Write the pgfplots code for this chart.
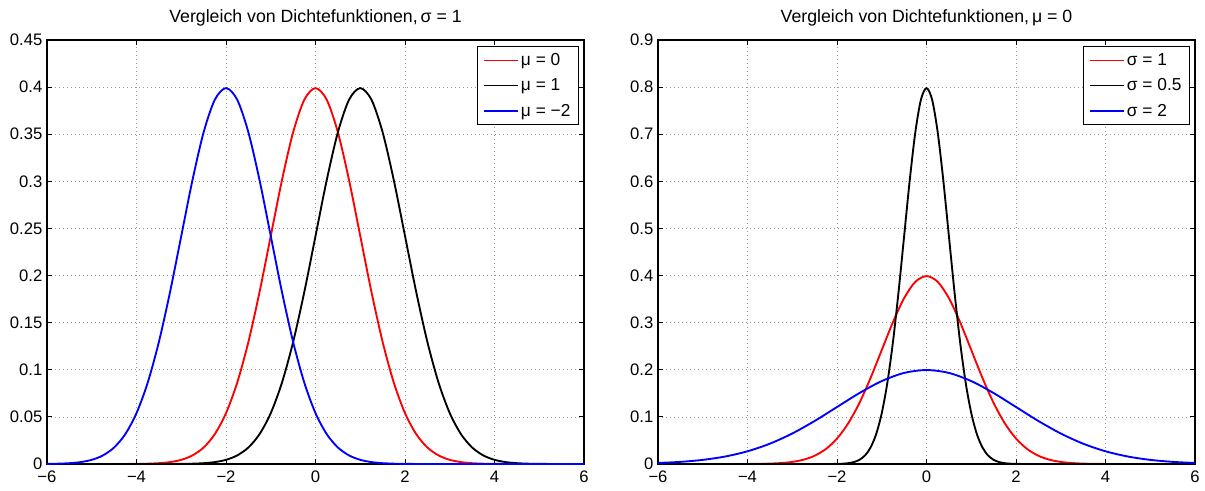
\documentclass[border=0pt]{standalone}
\usepackage{fontspec}
\setmainfont{Liberation Sans}
\usepackage{pgfplots}
\pgfplotsset{compat=1.18}
\definecolor{mred}{RGB}{255,0,0}
\definecolor{mblue}{RGB}{0,0,255}
\pgfplotsset{
  mstyle/.style={
    scale only axis,
    width=402.75pt, height=318pt,
    anchor=south west,
    xmin=-6, xmax=6,
    ymin=0,
    xtick={-6,-4,-2,0,2,4,6},
    xticklabels={−6,−4,−2,0,2,4,6},
    grid=major,
    major grid style={dash pattern=on 0.75pt off 2.25pt, gray!80, line width=0.5pt},
    tick align=inside,
    major tick length=4pt,
    axis line style={line width=0.8pt},
    every tick/.style={black, line width=0.6pt},
    tick label style={font=\fontsize{12.5}{14}\selectfont},
    x tick label style={yshift=-1.5pt},
    /pgf/number format/assume math mode=true,
    title style={font=\fontsize{13.3}{15}\selectfont, yshift=1pt},
    legend style={draw=black, line width=0.8pt, font=\fontsize{13}{15}\selectfont, anchor=north east, inner xsep=4pt, inner ysep=3pt, row sep=4.5pt},
    legend cell align=left,
    legend image code/.code={\draw[#1, line width=0.9pt] (0cm,0cm) -- (0.9cm,0cm);},
    every axis plot/.append style={line width=1.4pt},
  }
}
\begin{document}
\begin{tikzpicture}
\useasboundingbox (0,0) rectangle (903.75pt,367.5pt);
\begin{axis}[mstyle, at={(35.25pt,19.5pt)},
  ymax=0.45,
  ytick={0,0.05,0.1,0.15,0.2,0.25,0.3,0.35,0.4,0.45},
  yticklabels={0,0.05,0.1,0.15,0.2,0.25,0.3,0.35,0.4,0.45},
  title={Vergleich von Dichtefunktionen,\,σ = 1},
  legend style={at={(0.9907,0.9858)}},
]
\addplot[mred, smooth] coordinates {
(-6,0)(-5,0.0000015)(-4.5,0.000016)(-4,0.000134)(-3.75,0.000353)(-3.5,0.000873)(-3.25,0.002029)(-3,0.004432)(-2.75,0.009094)(-2.5,0.017528)(-2.25,0.031740)(-2,0.053991)(-1.75,0.086277)(-1.5,0.129518)(-1.25,0.182649)(-1,0.241971)(-0.75,0.301137)(-0.5,0.352065)(-0.25,0.386668)(0,0.398942)
(0.25,0.386668)(0.5,0.352065)(0.75,0.301137)(1,0.241971)(1.25,0.182649)(1.5,0.129518)(1.75,0.086277)(2,0.053991)(2.25,0.031740)(2.5,0.017528)(2.75,0.009094)(3,0.004432)(3.25,0.002029)(3.5,0.000873)(3.75,0.000353)(4,0.000134)(4.5,0.000016)(5,0.0000015)(6,0)
};
\addlegendentry{μ = 0}
\addplot[black, smooth] coordinates {
(-6,0)(-4,0.0000015)(-3.5,0.000016)(-3,0.000134)(-2.75,0.000353)(-2.5,0.000873)(-2.25,0.002029)(-2,0.004432)(-1.75,0.009094)(-1.5,0.017528)(-1.25,0.031740)(-1,0.053991)(-0.75,0.086277)(-0.5,0.129518)(-0.25,0.182649)(0,0.241971)(0.25,0.301137)(0.5,0.352065)(0.75,0.386668)(1,0.398942)(1.25,0.386668)(1.5,0.352065)(1.75,0.301137)(2,0.241971)(2.25,0.182649)(2.5,0.129518)(2.75,0.086277)(3,0.053991)(3.25,0.031740)(3.5,0.017528)(3.75,0.009094)(4,0.004432)(4.25,0.002029)(4.5,0.000873)(4.75,0.000353)(5,0.000134)(5.5,0.000016)(6,0.0000015)
};
\addlegendentry{μ = 1}
\addplot[mblue, smooth] coordinates {
(-6,0.000134)(-5.75,0.000353)(-5.5,0.000873)(-5.25,0.002029)(-5,0.004432)(-4.75,0.009094)(-4.5,0.017528)(-4.25,0.031740)(-4,0.053991)(-3.75,0.086277)(-3.5,0.129518)(-3.25,0.182649)(-3,0.241971)(-2.75,0.301137)(-2.5,0.352065)(-2.25,0.386668)(-2,0.398942)(-1.75,0.386668)(-1.5,0.352065)(-1.25,0.301137)(-1,0.241971)(-0.75,0.182649)(-0.5,0.129518)(-0.25,0.086277)(0,0.053991)(0.25,0.031740)(0.5,0.017528)(0.75,0.009094)(1,0.004432)(1.25,0.002029)(1.5,0.000873)(1.75,0.000353)(2,0.000134)(2.5,0.000016)(3,0.0000015)(6,0)
};
\addlegendentry{μ = −2}
\end{axis}
\begin{axis}[mstyle, at={(493.5pt,19.5pt)},
  ymax=0.9,
  ytick={0,0.1,0.2,0.3,0.4,0.5,0.6,0.7,0.8,0.9},
  yticklabels={0,0.1,0.2,0.3,0.4,0.5,0.6,0.7,0.8,0.9},
  title={Vergleich von Dichtefunktionen,\,μ = 0},
  legend style={at={(0.9907,0.9858)}},
]
\addplot[mred, smooth] coordinates {
(-6,0)(-5,0.0000015)(-4.5,0.000016)(-4,0.000134)(-3.75,0.000353)(-3.5,0.000873)(-3.25,0.002029)(-3,0.004432)(-2.75,0.009094)(-2.5,0.017528)(-2.25,0.031740)(-2,0.053991)(-1.75,0.086277)(-1.5,0.129518)(-1.25,0.182649)(-1,0.241971)(-0.75,0.301137)(-0.5,0.352065)(-0.25,0.386668)(0,0.398942)
(0.25,0.386668)(0.5,0.352065)(0.75,0.301137)(1,0.241971)(1.25,0.182649)(1.5,0.129518)(1.75,0.086277)(2,0.053991)(2.25,0.031740)(2.5,0.017528)(2.75,0.009094)(3,0.004432)(3.25,0.002029)(3.5,0.000873)(3.75,0.000353)(4,0.000134)(4.5,0.000016)(5,0.0000015)(6,0)
};
\addlegendentry{σ = 1}
\addplot[black, smooth] coordinates {
(-6,0)(-3,0)(-2.5,0.000003)(-2.25,0.000032)(-2,0.000268)(-1.875,0.000706)(-1.75,0.001746)(-1.625,0.004058)(-1.5,0.008864)(-1.375,0.018188)(-1.25,0.035056)(-1.125,0.063480)(-1,0.107982)(-0.875,0.172554)(-0.75,0.259036)(-0.625,0.365298)(-0.5,0.483942)(-0.375,0.602274)(-0.25,0.704130)(-0.125,0.773336)(0,0.797885)
(0.125,0.773336)(0.25,0.704130)(0.375,0.602274)(0.5,0.483942)(0.625,0.365298)(0.75,0.259036)(0.875,0.172554)(1,0.107982)(1.125,0.063480)(1.25,0.035056)(1.375,0.018188)(1.5,0.008864)(1.625,0.004058)(1.75,0.001746)(1.875,0.000706)(2,0.000268)(2.25,0.000032)(2.5,0.000003)(3,0)(6,0)
};
\addlegendentry{σ = 0.5}
\addplot[mblue, smooth] coordinates {
(-6,0.002216)(-5.5,0.004547)(-5,0.008764)(-4.5,0.015870)(-4,0.026995)(-3.5,0.043139)(-3,0.064759)(-2.5,0.091325)(-2,0.120985)(-1.5,0.150569)(-1,0.176033)(-0.5,0.193334)(0,0.199471)
(0.5,0.193334)(1,0.176033)(1.5,0.150569)(2,0.120985)(2.5,0.091325)(3,0.064759)(3.5,0.043139)(4,0.026995)(4.5,0.015870)(5,0.008764)(5.5,0.004547)(6,0.002216)
};
\addlegendentry{σ = 2}
\end{axis}
\end{tikzpicture}
\end{document}
